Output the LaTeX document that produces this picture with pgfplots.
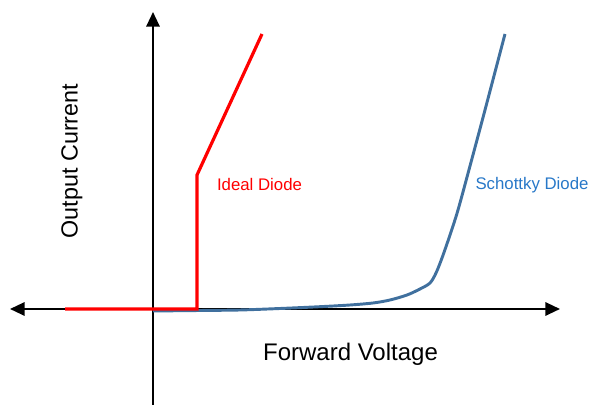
\documentclass[border=0pt]{standalone}
\usepackage{fontspec}
\setmainfont{Liberation Sans}
\usepackage{pgfplots}
\pgfplotsset{compat=1.18}
\usetikzlibrary{arrows.meta}
\definecolor{ideal}{RGB}{255,0,0}
\definecolor{schottky}{RGB}{64,112,158}
\definecolor{schottkytxt}{RGB}{40,120,200}
\begin{document}
\begin{tikzpicture}
\begin{axis}[
  scale only axis,
  width=445.5pt, height=303.75pt,
  xmin=-153, xmax=441, ymin=-96, ymax=309,
  axis lines=none, clip=false,
]
\path (axis cs:-153,-96) rectangle (axis cs:441,309);
% axes
\addplot[black, line width=1.6pt, {Triangle[length=11pt,width=10pt]}-{Triangle[length=11pt,width=10pt]}] coordinates {(-143,0) (407,0)};
\addplot[black, line width=1.6pt, -{Triangle[length=11pt,width=10pt]}] coordinates {(0,-96) (0,297)};
% Schottky diode
\addplot[schottky, line width=2.2pt, smooth, tension=0.5] coordinates {
(0,-2) (47,-1.5) (87,-1) (127,0.5) (167,2.3) (197,4) (220,6) (237,9) (254,14) (267,20) (277,26) (283,36) (289,51) (297,74) (305,99) (317,143) (332,199) (352,275)
};
% Ideal diode
\addplot[ideal, line width=2.4pt, line join=miter] coordinates {(-88,0) (44,0) (44,134) (109,275)};
% labels
\node[font=\fontsize{18}{20}\selectfont] at (axis cs:197.5,-45) {Forward Voltage};
\node[font=\fontsize{17.5}{20}\selectfont, rotate=90] at (axis cs:-81,148) {Output Current};
\node[font=\fontsize{12.6}{14}\selectfont, text=ideal] at (axis cs:106.5,124) {Ideal Diode};
\node[font=\fontsize{12.6}{14}\selectfont, text=schottkytxt] at (axis cs:379,124) {Schottky Diode};
\end{axis}
\end{tikzpicture}
\end{document}
